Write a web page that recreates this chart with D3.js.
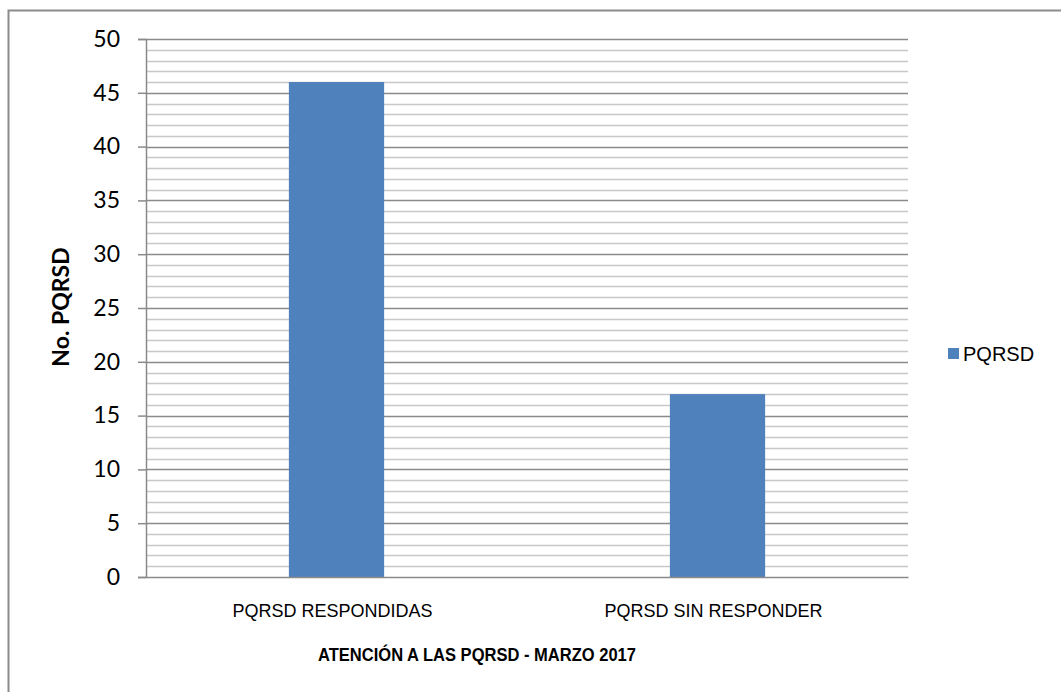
<!DOCTYPE html>
<html>
<head>
<meta charset="utf-8">
<script src="https://cdn.jsdelivr.net/npm/d3@7"></script>
<style>
  body { margin: 0; background: #fff; }
</style>
</head>
<body>
<div id="chart-area"></div>
<script>
// data
var categories = ["PQRSD RESPONDIDAS", "PQRSD SIN RESPONDER"];
var values = [46, 17];
var seriesName = "PQRSD";
var yTicks = [0, 5, 10, 15, 20, 25, 30, 35, 40, 45, 50];

var W = 1061, H = 692;
var margin = { left: 146, right: 153, top: 39, bottom: 115 };
var width = W - margin.left - margin.right;
var height = H - margin.top - margin.bottom;

var svg = d3.select("#chart-area")
  .append("svg")
    .attr("width", W)
    .attr("height", H);

// outer chart frame (right and bottom run off the page)
svg.append("rect")
  .attr("x", 8.5).attr("y", 10.5)
  .attr("width", W + 20).attr("height", H + 20)
  .attr("fill", "none")
  .attr("stroke", "#8c8c8c")
  .attr("stroke-width", 2);

var g = svg.append("g")
  .attr("transform", "translate(" + margin.left + "," + margin.top + ")");

// scales
var x = d3.scaleBand()
  .domain(categories)
  .range([0, width])
  .padding(0);

var y = d3.scaleLinear()
  .domain([0, 50])
  .range([height, 0]);

// minor gridlines every 1
g.append("g").selectAll("line")
  .data(d3.range(1, 50).filter(function(d){ return d % 5 !== 0; }))
  .enter().append("line")
    .attr("x1", 0).attr("x2", width)
    .attr("y1", function(d){ return Math.round(y(d)) + 0.5; })
    .attr("y2", function(d){ return Math.round(y(d)) + 0.5; })
    .attr("stroke", "#c8c8c8")
    .attr("stroke-width", 1.5);

// major gridlines
g.append("g").selectAll("line")
  .data(yTicks.slice(1))
  .enter().append("line")
    .attr("x1", 0).attr("x2", width)
    .attr("y1", function(d){ return Math.round(y(d)) + 0.5; })
    .attr("y2", function(d){ return Math.round(y(d)) + 0.5; })
    .attr("stroke", "#8a8a8a")
    .attr("stroke-width", 1.5);

// bars
var barW = x.bandwidth() * 0.25;
g.selectAll(".bar")
  .data(values)
  .enter().append("rect")
    .attr("class", "bar")
    .attr("x", function(d, i){ return x(categories[i]) + (x.bandwidth() - barW) / 2; })
    .attr("y", function(d){ return y(d); })
    .attr("width", barW)
    .attr("height", function(d){ return height - y(d); })
    .attr("fill", "#4f81bd");

// y axis
var yAxis = d3.axisLeft(y)
  .tickValues(yTicks)
  .tickSize(8)
  .tickPadding(18)
  .tickFormat(d3.format("d"));

var yAxisGroup = g.append("g")
  .attr("class", "y-axis")
  .call(yAxis);
yAxisGroup.select(".domain").attr("stroke", "#8a8a8a").attr("stroke-width", 1.5);
yAxisGroup.selectAll(".tick line").attr("stroke", "#8a8a8a").attr("stroke-width", 1.5);
yAxisGroup.selectAll(".tick text")
  .attr("font-family", "Lato, 'Open Sans', sans-serif")
  .attr("font-size", "23px")
  .attr("fill", "#000");

// x axis baseline
var xAxis = d3.axisBottom(x).tickSize(0).tickPadding(24);
var xAxisGroup = g.append("g")
  .attr("class", "x-axis")
  .attr("transform", "translate(0," + height + ")")
  .call(xAxis);
xAxisGroup.select(".domain").attr("stroke", "#8a8a8a").attr("stroke-width", 1.5);
xAxisGroup.selectAll(".tick text")
  .attr("x", -4)
  .attr("dy", 0)
  .attr("y", 40)
  .attr("font-family", "'Liberation Sans', Arial, sans-serif")
  .attr("font-size", "18px")
  .attr("fill", "#000");

// x title
svg.append("text")
  .attr("transform", "translate(477,661) scale(0.87,1)")
  .attr("text-anchor", "middle")
  .attr("font-family", "'Liberation Sans', Arial, sans-serif")
  .attr("font-weight", "bold")
  .attr("font-size", "19px")
  .text("ATENCIÓN A LAS PQRSD - MARZO 2017");

// y title
svg.append("text")
  .attr("transform", "translate(69," + 307 + ") rotate(-90)")
  .attr("text-anchor", "middle")
  .attr("font-family", "Lato, 'Open Sans', sans-serif")
  .attr("font-weight", "bold")
  .attr("font-size", "23px")
  .text("No. PQRSD");

// legend
var legend = svg.append("g").attr("transform", "translate(948,348)");
legend.append("rect")
  .attr("width", 11).attr("height", 11)
  .attr("fill", "#4f81bd");
legend.append("text")
  .attr("x", 15).attr("y", 13)
  .attr("font-family", "'Liberation Sans', Arial, sans-serif")
  .attr("font-size", "20px")
  .text(seriesName);
</script>
</body>
</html>
